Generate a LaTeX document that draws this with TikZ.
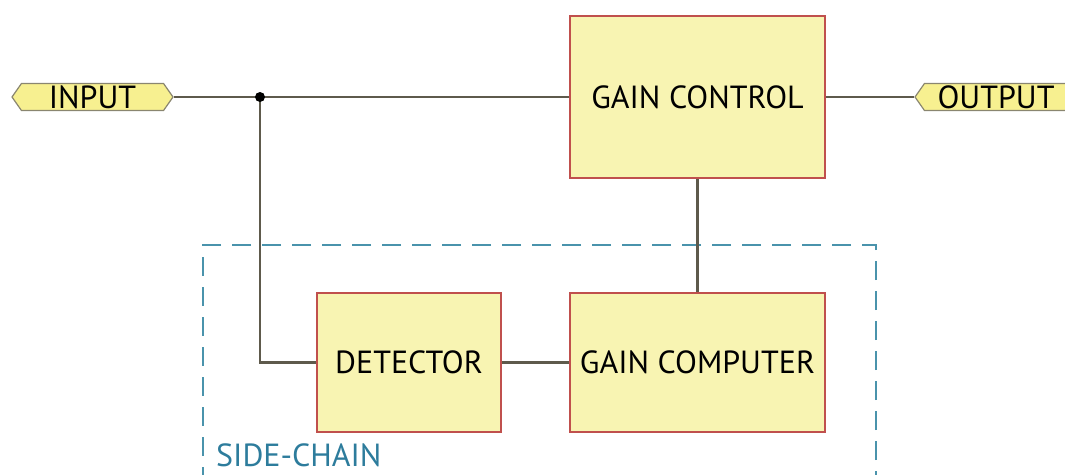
\documentclass[tikz,border=0pt]{standalone}
\usepackage{fontspec}
\setmainfont{PT Sans}
\usetikzlibrary{shapes.symbols}
\definecolor{boxfill}{HTML}{F8F4B2}
\definecolor{boxedge}{HTML}{C0504D}
\definecolor{tagfill}{HTML}{F7F090}
\definecolor{tagedge}{HTML}{8A8670}
\definecolor{wire}{HTML}{5E5A4C}
\definecolor{chain}{HTML}{4A93AC}
\definecolor{chaintext}{HTML}{2D7C9C}
\tikzset{
  lbl/.style={font=\fontsize{32}{36}\selectfont},
  blk/.style={lbl, draw=boxedge, fill=boxfill, line width=1.8pt, inner sep=0pt},
  tag/.style={lbl, signal, signal to=west and east, draw=tagedge, fill=tagfill,
    line width=1.2pt, minimum height=27pt, inner sep=0pt, signal pointer angle=110},
  wireline/.style={draw=wire, line width=2.2pt},
}
\begin{document}
\begin{tikzpicture}[x=1pt,y=-1pt]
\useasboundingbox (0,0) rectangle (1065,474);
% side-chain frame
\draw[chain, line width=2.2pt, dash pattern=on 19pt off 11pt] (876,490) -- (876,245) -- (203,245) -- (203,490);
\node[lbl, text=chaintext, anchor=base west, inner sep=0pt] (sc) at (216,466) {SIDE-CHAIN};
% blocks
\node[blk, minimum width=255pt, minimum height=162pt] (gc) at (697.5,97) {GAIN CONTROL};
\node[blk, minimum width=184pt, minimum height=139pt] (det) at (409,362.5) {DETECTOR};
\node[blk, minimum width=255pt, minimum height=139pt] (gcomp) at (697.5,362.5) {GAIN COMPUTER};
% ports
\node[tag, minimum width=161pt] (in) at (92.5,97) {INPUT};
\node[tag, minimum width=162pt] (out) at (996,97) {OUTPUT};
% wiring
\coordinate (j) at (260,97);
\draw[wireline] (in.east) -- (gc.west);
\draw[wireline] (j) |- (det.west);
\draw[wireline] (det.east) -- (gcomp.west);
\draw[wireline] (gcomp.north) -- (gc.south);
\draw[wireline] (gc.east) -- (out.west);
\fill[black] (j) circle (5pt);
\end{tikzpicture}
\end{document}
